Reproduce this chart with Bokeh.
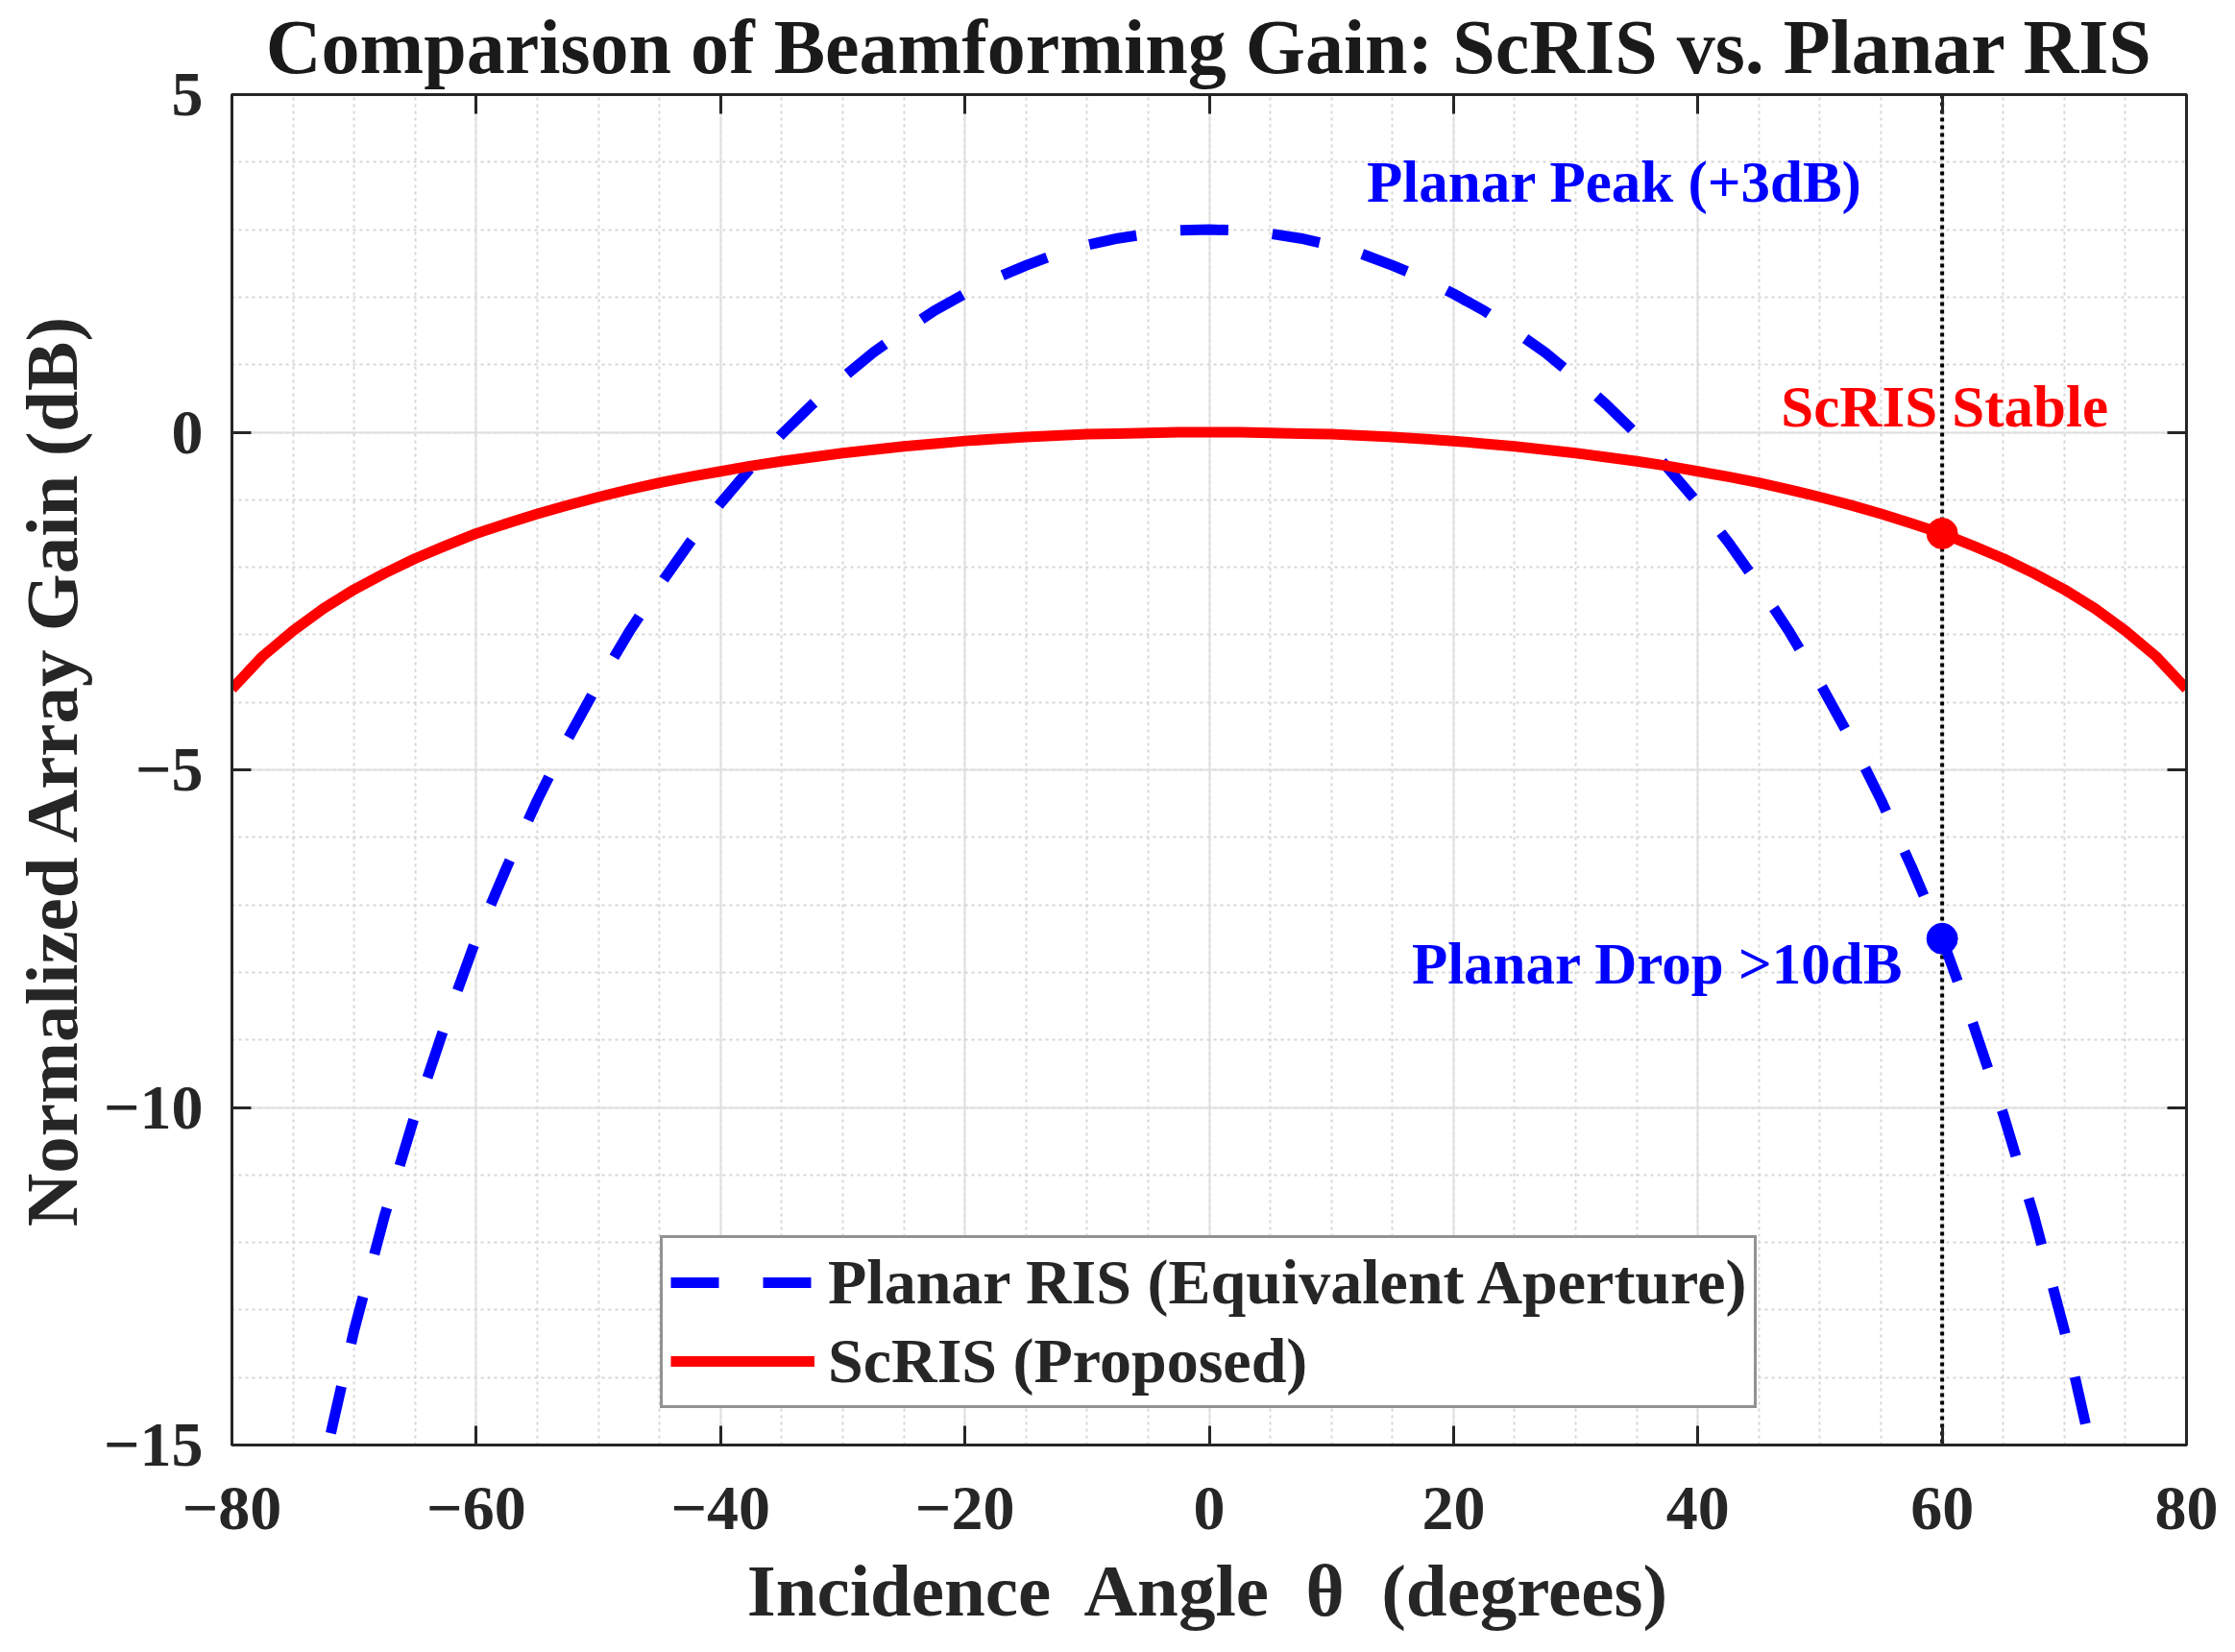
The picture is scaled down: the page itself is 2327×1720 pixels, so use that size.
import numpy as np
from bokeh.plotting import figure
from bokeh.models import (ColumnDataSource, Span, Legend, LegendItem, LinearAxis,
                          SingleIntervalTicker, Range1d)
from bokeh.core.properties import value
from bokeh.embed import file_html
from bokeh.resources import INLINE

# planar RIS gain (dB), read every 2.5 degrees
planar_theta = [-75, -72.5, -70, -67.5, -65, -62.5, -60, -57.5, -55, -52.5, -50, -47.5, -45, -42.5,
                -40, -37.5, -35, -32.5, -30, -27.5, -25, -22.5, -20, -17.5, -15, -12.5, -10, -7.5,
                -5, -2.5, 0, 2.5, 5, 7.5, 10, 12.5, 15, 17.5, 20, 22.5, 25, 27.5, 30, 32.5, 35,
                37.5, 40, 42.5, 45, 47.5, 50, 52.5, 55, 57.5, 60, 62.5, 65, 67.5, 70, 72.5, 75]
planar_gain = [-17.5, -15.3, -13.3, -11.6, -10.1, -8.75, -7.5, -6.44, -5.45, -4.54, -3.72, -2.96, -2.27, -1.63,
               -1.05, -0.52, -0.03, 0.41, 0.81, 1.18, 1.5, 1.8, 2.05, 2.28, 2.47, 2.64, 2.77, 2.87,
               2.94, 2.99, 3.0, 2.99, 2.94, 2.87, 2.77, 2.64, 2.47, 2.28, 2.05, 1.8, 1.5, 1.18, 0.81, 0.41, -0.03,
               -0.52, -1.05, -1.63, -2.27, -2.96, -3.72, -4.54, -5.45, -6.44, -7.5, -8.75, -10.1, -11.6, -13.3, -15.3, -17.5]

# ScRIS gain (dB)
scris_theta = [-80, -77.5, -75, -72.5, -70, -67.5, -65, -62.5, -60, -57.5, -55, -52.5, -50, -47.5, -45,
               -42.5, -40, -37.5, -35, -32.5, -30, -27.5, -25, -22.5, -20, -17.5, -15, -12.5, -10, -7.5,
               -5, -2.5, 0, 2.5, 5, 7.5, 10, 12.5, 15, 17.5, 20, 22.5, 25, 27.5, 30, 32.5, 35, 37.5,
               40, 42.5, 45, 47.5, 50, 52.5, 55, 57.5, 60, 62.5, 65, 67.5, 70, 72.5, 75, 77.5, 80]
scris_gain = [-3.8, -3.32, -2.94, -2.61, -2.33, -2.09, -1.87, -1.68, -1.5, -1.35, -1.21, -1.08, -0.96, -0.85, -0.75,
              -0.66, -0.58, -0.5, -0.43, -0.37, -0.31, -0.26, -0.21, -0.17, -0.13, -0.1, -0.07, -0.05, -0.03, -0.02,
              -0.01, 0.0, 0.0, 0.0, -0.01, -0.02, -0.03, -0.05, -0.07, -0.1, -0.13, -0.17, -0.21, -0.26, -0.31, -0.37, -0.43, -0.5,
              -0.58, -0.66, -0.75, -0.85, -0.96, -1.08, -1.21, -1.35, -1.5, -1.68, -1.87, -2.09, -2.33, -2.61, -2.94, -3.32, -3.8]

# highlighted points at the reference angle
ref_angle = 60
mark_theta = [60, 60]
mark_gain = [-1.5, -7.5]
mark_color = ["#ff0000", "#0000ff"]

# annotations
note_text = ["Planar Peak (+3dB)", "ScRIS Stable", "Planar Drop >10dB"]
note_x = [12.9, 60.2, 56.8]
note_y = [3.7, 0.37, -7.87]
note_align = ["left", "center", "right"]
note_color = ["#0000ff", "#ff0000", "#0000ff"]

x_ticks = [-80, -60, -40, -20, 0, 20, 40, 60, 80]
y_ticks = [-15, -10, -5, 0, 5]

FONT = "Liberation Serif"
INK = "#262626"
SP = "\u00a0"

p = figure(width=2311, height=1704, output_backend="svg", toolbar_location=None,
           x_range=Range1d(-80, 80), y_range=Range1d(-15, 5),
           min_border_left=241, min_border_right=35, min_border_top=98, min_border_bottom=200,
           title="Comparison of Beamforming Gain: ScRIS vs. Planar RIS",
           x_axis_label="Incidence" + SP + " Angle" + SP + " \u03b8" + SP + " (degrees)",
           y_axis_label="Normalized Array Gain (dB)")

p.title.text_font = FONT
p.title.text_font_size = "80px"
p.title.text_font_style = "bold"
p.title.text_color = "#1a1a1a"
p.title.align = "center"
p.title.standoff = 3

p.background_fill_color = "white"
p.border_fill_color = "white"
p.outline_line_color = INK
p.outline_line_width = 3

xt = SingleIntervalTicker(interval=20, num_minor_ticks=4)
yt = SingleIntervalTicker(interval=5, num_minor_ticks=5)

bottom_axis = p.below[0]
left_axis = p.left[0]
bottom_axis.ticker = xt
left_axis.ticker = yt
bottom_axis.major_label_overrides = {t: str(t).replace("-", "\u2212") for t in x_ticks}
left_axis.major_label_overrides = {t: str(t).replace("-", "\u2212") for t in y_ticks}

# box ticks on top and right, no labels
top_axis = LinearAxis(ticker=xt, major_label_overrides={t: "" for t in x_ticks})
right_axis = LinearAxis(ticker=yt, major_label_overrides={t: "" for t in y_ticks})
p.add_layout(top_axis, "above")
p.add_layout(right_axis, "right")

for ax in [bottom_axis, left_axis, top_axis, right_axis]:
    ax.axis_line_color = INK
    ax.axis_line_width = 3
    ax.major_tick_line_color = INK
    ax.major_tick_line_width = 3
    ax.major_tick_in = 20
    ax.major_tick_out = 0
    ax.minor_tick_line_color = None
    ax.major_label_text_font = FONT
    ax.major_label_text_font_style = "bold"
    ax.major_label_text_color = INK
    ax.major_label_text_font_size = "66px"
    ax.axis_label_text_font = FONT
    ax.axis_label_text_font_style = "bold"
    ax.axis_label_text_color = INK
    ax.axis_label_text_font_size = "77px"

for ax in [top_axis, right_axis]:
    ax.major_label_standoff = 0
    ax.axis_label_standoff = 0

bottom_axis.major_label_standoff = 40
left_axis.major_label_standoff = 26
bottom_axis.axis_label_standoff = 18
left_axis.axis_label_standoff = 8

# grid
for g in [p.xgrid[0], p.ygrid[0]]:
    g.grid_line_color = "#e0e0e0"
    g.grid_line_width = 2
    g.minor_grid_line_color = "#d6d6d6"
    g.minor_grid_line_width = 2
    g.minor_grid_line_dash = "3 4"

# reference angle line
vline = Span(location=ref_angle, dimension="height", line_color="black",
             line_width=4, line_dash="4 4", level="underlay")
p.add_layout(vline)

r_planar = p.line(planar_theta, planar_gain, line_color="#0000ff", line_width=11,
                  line_dash="50 46", line_cap="butt", line_join="round")
r_scris = p.line(scris_theta, scris_gain, line_color="#ff0000", line_width=11,
                 line_join="round")

p.scatter(mark_theta, mark_gain, size=32, color=mark_color, marker="circle")

notes = ColumnDataSource(dict(x=note_x, y=note_y, text=note_text, align=note_align, color=note_color))
p.text(x="x", y="y", text="text", source=notes, text_align="align", text_color="color",
       text_baseline="middle", text_font=value(FONT), text_font_style="bold",
       text_font_size="61px")

legend = Legend(items=[LegendItem(label="Planar RIS (Equivalent Aperture)", renderers=[r_planar]),
                       LegendItem(label="ScRIS (Proposed)", renderers=[r_scris])],
                location=(446, 38))
legend.label_text_font = FONT
legend.label_text_font_style = "bold"
legend.label_text_font_size = "66px"
legend.label_text_color = INK
legend.glyph_width = 150
legend.glyph_height = 68
legend.label_height = 68
legend.label_standoff = 14
legend.spacing = 6
legend.padding = 8
legend.margin = 0
legend.border_line_color = INK
legend.border_line_width = 3
legend.background_fill_color = "white"
legend.background_fill_alpha = 1.0
p.add_layout(legend)

open("out.html", "w").write(file_html(p, INLINE))
